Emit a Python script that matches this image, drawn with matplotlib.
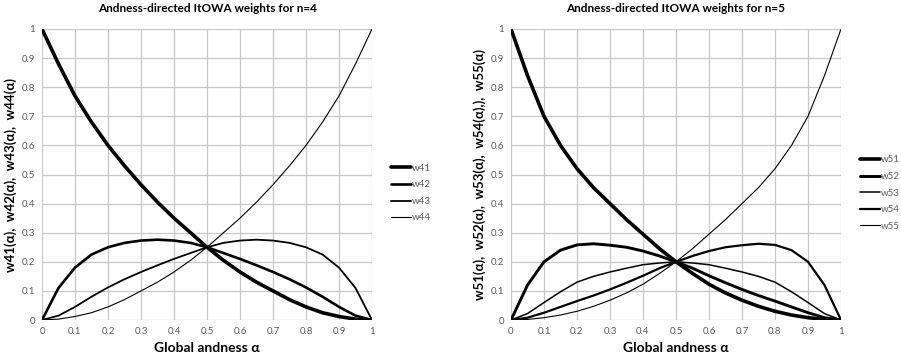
import matplotlib
matplotlib.use("Agg")
import matplotlib.pyplot as plt
import numpy as np

plt.rcParams['font.family'] = ['Lato', 'DejaVu Sans']

alpha = [0.0, 0.05, 0.1, 0.15, 0.2, 0.25, 0.3, 0.35, 0.4, 0.45, 0.5,
         0.55, 0.6, 0.65, 0.7, 0.75, 0.8, 0.85, 0.9, 0.95, 1.0]

# n = 4
w41 = [1.0, 0.88, 0.77, 0.68, 0.60, 0.53, 0.465, 0.405, 0.35, 0.30, 0.25,
       0.205, 0.165, 0.13, 0.10, 0.07, 0.045, 0.025, 0.012, 0.003, 0.0]
w42 = [0.0, 0.11, 0.18, 0.225, 0.25, 0.265, 0.273, 0.276, 0.273, 0.265, 0.25,
       0.23, 0.21, 0.188, 0.165, 0.14, 0.112, 0.08, 0.045, 0.015, 0.0]
w43 = [0.0, 0.015, 0.045, 0.08, 0.112, 0.14, 0.165, 0.188, 0.21, 0.23, 0.25,
       0.265, 0.273, 0.276, 0.273, 0.265, 0.25, 0.225, 0.18, 0.11, 0.0]
w44 = [0.0, 0.003, 0.012, 0.025, 0.045, 0.07, 0.10, 0.13, 0.165, 0.205, 0.25,
       0.30, 0.35, 0.405, 0.465, 0.53, 0.60, 0.68, 0.77, 0.88, 1.0]

# n = 5
w51 = [1.0, 0.84, 0.70, 0.60, 0.52, 0.455, 0.40, 0.345, 0.295, 0.245, 0.20,
       0.16, 0.123, 0.093, 0.068, 0.047, 0.03, 0.017, 0.008, 0.002, 0.0]
w52 = [0.0, 0.12, 0.20, 0.24, 0.258, 0.262, 0.257, 0.25, 0.237, 0.22, 0.20,
       0.178, 0.152, 0.128, 0.105, 0.084, 0.065, 0.045, 0.025, 0.008, 0.0]
w53 = [0.0, 0.022, 0.06, 0.097, 0.13, 0.15, 0.165, 0.178, 0.19, 0.196, 0.20,
       0.196, 0.19, 0.178, 0.165, 0.15, 0.13, 0.097, 0.06, 0.022, 0.0]
w54 = [0.0, 0.008, 0.025, 0.045, 0.065, 0.084, 0.105, 0.128, 0.152, 0.178, 0.20,
       0.22, 0.237, 0.25, 0.257, 0.262, 0.258, 0.24, 0.20, 0.12, 0.0]
w55 = [0.0, 0.002, 0.008, 0.017, 0.03, 0.047, 0.068, 0.093, 0.123, 0.16, 0.20,
       0.245, 0.295, 0.345, 0.40, 0.455, 0.52, 0.60, 0.70, 0.84, 1.0]

ticks = [0, 0.1, 0.2, 0.3, 0.4, 0.5, 0.6, 0.7, 0.8, 0.9, 1]
tick_labels = ["0", "0.1", "0.2", "0.3", "0.4", "0.5", "0.6", "0.7", "0.8", "0.9", "1"]

fig = plt.figure(figsize=(9.01, 3.61), dpi=100)
gray = '#595959'
grid = '#c8c8c8'


def setup(ax, title, ylabel):
    ax.set_xlim(0, 1)
    ax.set_ylim(0, 1)
    ax.set_xticks(ticks)
    ax.set_yticks(ticks)
    ax.set_xticklabels(tick_labels, fontsize=7, color=gray)
    ax.set_yticklabels(tick_labels, fontsize=7, color=gray)
    ax.tick_params(length=0, pad=5)
    ax.grid(True, color=grid, linewidth=0.9)
    for s in ax.spines.values():
        s.set_visible(False)
    ax.set_axisbelow(True)
    ax.set_title(title, fontsize=8.5, fontweight='bold', pad=12)
    ax.set_xlabel('Global andness α', fontsize=10, fontweight='bold', labelpad=4)
    ax.set_ylabel(ylabel, fontsize=9.5, fontweight='bold', labelpad=3)


def legend(ax):
    ax.legend(loc='center left', bbox_to_anchor=(1.045, 0.436), frameon=False,
              fontsize=7, handlelength=2.1, handletextpad=0.05, labelspacing=0.78,
              labelcolor=gray, borderaxespad=0)


ax1 = fig.add_axes([42 / 901, 41 / 361, 330 / 901, 291 / 361])
setup(ax1, 'Andness-directed ItOWA weights for n=4',
      'w41(α),  w42(α),  w43(α),  w44(α)')
for y, lw, lab in [(w41, 2.6, 'w41'), (w42, 1.9, 'w42'), (w43, 1.3, 'w43'), (w44, 0.8, 'w44')]:
    ax1.plot(alpha, y, color='black', linewidth=lw, label=lab,
             solid_capstyle='round', solid_joinstyle='round')
legend(ax1)

ax2 = fig.add_axes([511 / 901, 41 / 361, 330 / 901, 291 / 361])
setup(ax2, 'Andness-directed ItOWA weights for n=5',
      'w51(α),  w52(α),  w53(α),  w54(α),),  w55(α)')
for y, lw, lab in [(w51, 2.6, 'w51'), (w52, 2.1, 'w52'), (w53, 1.1, 'w53'), (w54, 1.6, 'w54'), (w55, 0.8, 'w55')]:
    ax2.plot(alpha, y, color='black', linewidth=lw, label=lab,
             solid_capstyle='round', solid_joinstyle='round')
legend(ax2)

fig.savefig('out.png', dpi=100)
